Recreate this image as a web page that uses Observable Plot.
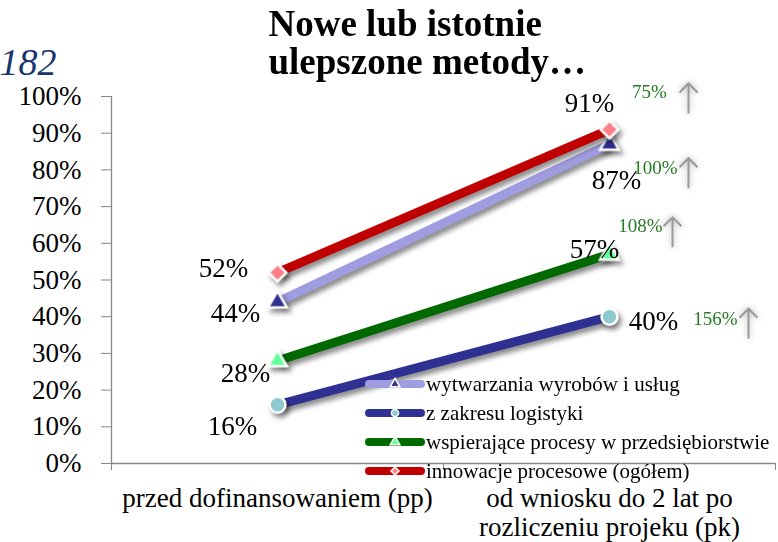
<!DOCTYPE html>
<html><head><meta charset="utf-8">
<script src="https://cdn.jsdelivr.net/npm/d3@7"></script>
<script src="https://cdn.jsdelivr.net/npm/@observablehq/plot@0.6"></script>
<style>
html,body{margin:0;padding:0;background:#fff;}
#chart svg{display:block;}
.shadowed{filter: drop-shadow(3px 4px 2.5px rgba(0,0,0,0.45));}
.glow{filter: drop-shadow(0 0 3px rgba(0,0,0,0.35));}
</style></head><body><div id="chart"></div>
<script>
// ---- data ----
const pageNumber = "182";
const title = "Nowe lub istotnie\nulepszone metody…";
const categories = ["przed dofinansowaniem (pp)", "od wniosku do 2 lat po\nrozliczeniu projeku (pk)"];
const seriesNames = ["wytwarzania wyrobów i usług", "z zakresu logistyki", "wspierające procesy w przedsiębiorstwie", "innowacje procesowe (ogółem)"];
const valuesBefore = [44, 16, 28, 52];
const valuesAfter = [87, 40, 57, 91];
const growthLabels = ["100%", "156%", "108%", "75%"];
const yTicks = [0, 10, 20, 30, 40, 50, 60, 70, 80, 90, 100];

// ---- styles ----
const font = "'Times New Roman', 'Liberation Serif', serif";
const lineColors = ["#A09CE0", "#2E3192", "#006A00", "#C00000"];
const markerFills = ["#2E3192", "#8EC9D0", "#66FF99", "#FF7F86"];
const markerSymbols = ["triangle", "circle", "triangle", d3.symbolDiamond2];
const markerR = [7, 8, 7, 8];
const labelOffsets = [ [[-42, 11], [7, 36]], [[-45, 22], [44, 5]], [[-32, 13], [-15, -5]], [[-54, -4], [-20, -26]] ];
const growthOffsets = [[46, 24], [106, 2], [31, -28], [40, -38]];
const arrowOffsets = [[79, 29], [139, 7], [63, -22], [79, -31]];
const arrowSymbol = { draw(ctx) { ctx.moveTo(0, 15); ctx.lineTo(0, -15); ctx.moveTo(-9, -6); ctx.lineTo(0, -15); ctx.lineTo(9, -6); } };
const legendLayout = { x: 369, w: 52, top: 384, step: 29, fontSize: 21 };

const rows = seriesNames.map((name, s) => [
  {series: name, x: 0.5, value: valuesBefore[s]},
  {series: name, x: 1.5, value: valuesAfter[s]}
]);

const marks = [
  Plot.axisY({ticks: yTicks, tickSize: 10, tickPadding: 20, tickFormat: d => d + "%", fontSize: 27, stroke: "#888", label: null}),
  Plot.ruleX([0], {stroke: "#888", strokeWidth: 1.3}),
  Plot.ruleY([0], {stroke: "#888", strokeWidth: 1.3}),
  Plot.axisX({ticks: [0, 1, 2], tickSize: 7, tickFormat: () => "", stroke: "#888", label: null}),
  Plot.text(categories.map((c, i) => ({x: i + 0.5, label: c})), {x: "x", y: 0, text: "label", lineAnchor: "top", dy: 23, fontSize: 27, lineHeight: 1.08, fill: "black"})
];

seriesNames.forEach((name, s) => {
  marks.push(Plot.line(rows[s], {x: "x", y: "value", stroke: lineColors[s], strokeWidth: 9, strokeLinecap: "butt", className: "shadowed"}));
  marks.push(Plot.dot(rows[s], {x: "x", y: "value", symbol: markerSymbols[s], r: markerR[s], fill: markerFills[s], stroke: "white", strokeWidth: 2.5, className: "shadowed"}));
});

seriesNames.forEach((name, s) => {
  rows[s].forEach((d, i) => {
    marks.push(Plot.text([d], {x: "x", y: "value", text: d => d.value + "%", fontSize: 27, fill: "black", dx: labelOffsets[s][i][0], dy: labelOffsets[s][i][1]}));
  });
  const end = rows[s][1];
  marks.push(Plot.text([end], {x: "x", y: "value", text: () => growthLabels[s], fontSize: 19, fill: "#237A23", dx: growthOffsets[s][0], dy: growthOffsets[s][1]}));
  marks.push(Plot.dot([end], {x: "x", y: "value", symbol: arrowSymbol, fill: "none", stroke: "#999", strokeWidth: 2, dx: arrowOffsets[s][0], dy: arrowOffsets[s][1], className: "glow"}));
});

// legend
marks.push(() => {
  const g = d3.create("svg:g").attr("font-family", font).attr("text-anchor", "start");
  const symTypes = [d3.symbolTriangle, d3.symbolCircle, d3.symbolTriangle, d3.symbolDiamond2];
  seriesNames.forEach((name, s) => {
    const y = legendLayout.top + s * legendLayout.step;
    g.append("line").attr("x1", legendLayout.x).attr("x2", legendLayout.x + legendLayout.w)
      .attr("y1", y).attr("y2", y).attr("stroke", lineColors[s]).attr("stroke-width", 8).attr("stroke-linecap", "round");
    g.append("path").attr("d", d3.symbol(symTypes[s], 40)())
      .attr("transform", `translate(${legendLayout.x + legendLayout.w / 2},${y})`)
      .attr("fill", markerFills[s]).attr("stroke", "white").attr("stroke-width", 1.5);
    g.append("text").attr("x", legendLayout.x + legendLayout.w + 5).attr("y", y).attr("dy", "0.32em")
      .attr("text-anchor", "start").attr("font-size", legendLayout.fontSize).attr("fill", "black").text(name);
  });
  return g.node();
});

marks.push(Plot.text([title], {frameAnchor: "top-left", textAnchor: "start", lineAnchor: "top", dx: 157, dy: -87, fontSize: 37, fontWeight: "bold", lineHeight: 1.02, fill: "black"}));
marks.push(Plot.text([pageNumber], {frameAnchor: "top-left", textAnchor: "start", lineAnchor: "middle", dx: -112, dy: -34, fontSize: 38, fontStyle: "italic", fill: "#183470"}));

const chart = Plot.plot({
  width: 778, height: 542,
  marginLeft: 111, marginRight: 3, marginTop: 96, marginBottom: 79,
  x: {domain: [0, 2], label: null},
  y: {domain: [0, 100], label: null},
  style: {fontFamily: font, background: "white", color: "black", overflow: "visible"},
  marks
});
document.getElementById("chart").appendChild(chart);
</script></body></html>
